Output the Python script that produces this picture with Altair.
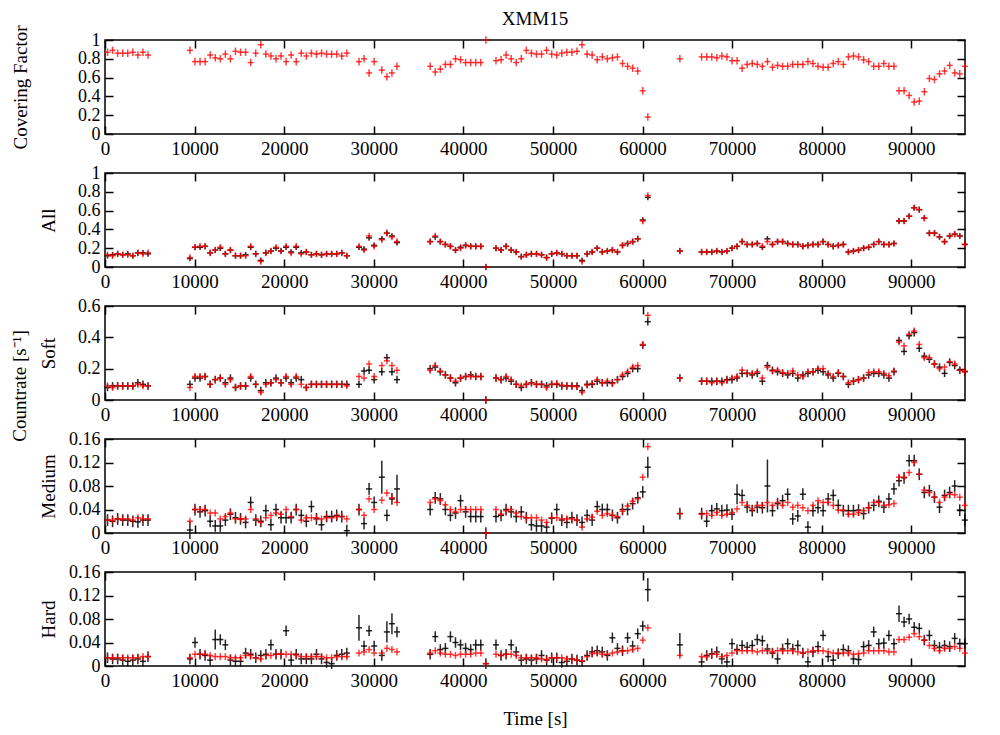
import altair as alt
import pandas as pd

FONT = "Liberation Serif"
FS = 19
FS_Y = 18
BIN = 565  # s, width of one time bin

# time bins: segment start times and number of bins in each segment
SEG_START = [280, 9480, 28350, 30900, 36300, 64170, 66600]
SEG_COUNT = [9, 32, 4, 4, 44, 1, 53]
TIMES = []
for s, n in zip(SEG_START, SEG_COUNT):
    TIMES.extend(s + i * BIN for i in range(n))

XTICKS = [0, 10000, 20000, 30000, 40000, 50000, 60000, 70000, 80000, 90000]

# ---------------- Covering factor (red only) ----------------
cf_red = [
    0.87, 0.89, 0.86, 0.86, 0.86, 0.87, 0.84, 0.87, 0.84,
    0.89, 0.77, 0.77, 0.77, 0.84, 0.81, 0.80, 0.85, 0.80, 0.88, 0.87, 0.87, 0.76, 0.86, 0.95, 0.85,
    0.83, 0.80, 0.83, 0.77, 0.84, 0.77, 0.86, 0.83, 0.86, 0.85, 0.86, 0.85, 0.85, 0.85, 0.83, 0.86,
    0.77, 0.80, 0.65, 0.77, 0.68, 0.61, 0.65, 0.72,
    0.72, 0.66, 0.69, 0.74, 0.74, 0.80, 0.79, 0.76, 0.76, 0.76, 0.76, 1.00, None, 0.78, 0.79, 0.84,
    0.80, 0.76, 0.80, 0.89, 0.86, 0.85,
    0.85, 0.89, 0.85, 0.84, 0.86, 0.87, 0.87, 0.88, 0.95, 0.85, 0.84, 0.79, 0.82, 0.80, 0.81, 0.82,
    0.75, 0.72, 0.70, 0.67, 0.46, 0.18,
    0.80,
    0.82, 0.82, 0.82, 0.81, 0.83, 0.82, 0.78, 0.78, 0.70, 0.74, 0.75, 0.74, 0.72, 0.77, 0.71, 0.73,
    0.72, 0.72, 0.74, 0.74, 0.74, 0.77, 0.75, 0.72, 0.71, 0.71, 0.75, 0.77, 0.74, 0.82, 0.83, 0.82,
    0.79, 0.77, 0.72, 0.72, 0.75, 0.72, 0.72, 0.46, 0.46, 0.41, 0.34, 0.35, 0.45, 0.59, 0.58, 0.64,
    0.67, 0.73, 0.65, 0.64, 0.72,
]

# ---------------- All ----------------
all_red = [
    0.13, 0.12, 0.14, 0.13, 0.13, 0.12, 0.15, 0.14, 0.15,
    0.10, 0.21, 0.22, 0.22, 0.15, 0.18, 0.21, 0.14, 0.18, 0.12, 0.12, 0.12, 0.22, 0.14, 0.06, 0.15,
    0.17, 0.21, 0.17, 0.22, 0.15, 0.22, 0.14, 0.16, 0.13, 0.14, 0.13, 0.14, 0.14, 0.14, 0.15, 0.12,
    0.22, 0.18, 0.33, 0.22, 0.29, 0.36, 0.32, 0.27,
    0.27, 0.33, 0.27, 0.24, 0.22, 0.18, 0.20, 0.23, 0.22, 0.22, 0.22, 0.00, None, 0.20, 0.18, 0.22,
    0.18, 0.16, 0.11, 0.13, 0.14, 0.14,
    0.13, 0.10, 0.14, 0.15, 0.14, 0.12, 0.12, 0.12, 0.06, 0.14, 0.16, 0.20, 0.16, 0.17, 0.18, 0.16,
    0.23, 0.25, 0.27, 0.30, 0.49, 0.76,
    0.17,
    0.16, 0.16, 0.16, 0.17, 0.16, 0.17, 0.20, 0.22, 0.27, 0.24, 0.24, 0.25, 0.22, 0.27, 0.24, 0.27,
    0.27, 0.25, 0.24, 0.24, 0.22, 0.23, 0.24, 0.24, 0.27, 0.24, 0.22, 0.23, 0.24, 0.16, 0.17, 0.18,
    0.20, 0.21, 0.24, 0.27, 0.24, 0.24, 0.25, 0.49, 0.49, 0.54, 0.63, 0.61, 0.52, 0.36, 0.36, 0.32,
    0.27, 0.33, 0.35, 0.33, 0.24,
]
all_black = [
    0.12, 0.13, 0.14, 0.13, 0.14, 0.12, 0.15, 0.15, 0.14,
    0.09, 0.21, 0.21, 0.22, 0.15, 0.18, 0.20, 0.14, 0.18, 0.12, 0.12, 0.13, 0.21, 0.14, 0.07, 0.15,
    0.17, 0.20, 0.17, 0.21, 0.16, 0.21, 0.15, 0.16, 0.13, 0.14, 0.13, 0.14, 0.14, 0.14, 0.15, 0.12,
    0.21, 0.19, 0.31, 0.23, 0.30, 0.36, 0.33, 0.26,
    0.27, 0.32, 0.27, 0.24, 0.22, 0.18, 0.21, 0.23, 0.22, 0.22, 0.22, 0.00, None, 0.20, 0.18, 0.22,
    0.18, 0.16, 0.11, 0.13, 0.14, 0.14,
    0.13, 0.10, 0.14, 0.15, 0.14, 0.12, 0.12, 0.12, 0.07, 0.14, 0.16, 0.20, 0.16, 0.17, 0.18, 0.16,
    0.23, 0.25, 0.27, 0.30, 0.50, 0.74,
    0.17,
    0.16, 0.16, 0.16, 0.17, 0.16, 0.17, 0.20, 0.22, 0.27, 0.24, 0.24, 0.25, 0.21, 0.30, 0.24, 0.27,
    0.27, 0.25, 0.24, 0.24, 0.22, 0.23, 0.24, 0.24, 0.27, 0.24, 0.22, 0.23, 0.24, 0.16, 0.17, 0.18,
    0.20, 0.21, 0.24, 0.27, 0.24, 0.24, 0.25, 0.49, 0.49, 0.54, 0.63, 0.61, 0.52, 0.36, 0.36, 0.32,
    0.27, 0.33, 0.35, 0.33, 0.24,
]

# ---------------- Soft ----------------
soft_red = [
    0.09, 0.08, 0.09, 0.09, 0.09, 0.09, 0.10, 0.09, 0.09,
    0.08, 0.15, 0.15, 0.15, 0.10, 0.13, 0.14, 0.10, 0.13, 0.08, 0.09, 0.09, 0.15, 0.10, 0.05, 0.10,
    0.11, 0.13, 0.11, 0.15, 0.10, 0.15, 0.10, 0.08, 0.10, 0.10, 0.10, 0.10, 0.10, 0.10, 0.10, 0.09,
    0.15, 0.14, 0.23, 0.15, 0.22, 0.25, 0.22, 0.19,
    0.19, 0.22, 0.185, 0.16, 0.14, 0.12, 0.14, 0.15, 0.15, 0.15, 0.15, 0.00, None, 0.14, 0.13, 0.15,
    0.13, 0.10, 0.09, 0.10, 0.11, 0.10,
    0.10, 0.08, 0.10, 0.105, 0.095, 0.09, 0.09, 0.085, 0.05, 0.095, 0.105, 0.13, 0.11, 0.12, 0.105,
    0.13, 0.16, 0.18, 0.21, 0.22, 0.355, 0.54,
    0.14,
    0.12, 0.12, 0.11, 0.12, 0.11, 0.125, 0.14, 0.15, 0.19, 0.17, 0.17, 0.18, 0.14, 0.21, 0.185, 0.19,
    0.175, 0.17, 0.185, 0.16, 0.15, 0.18, 0.18, 0.20, 0.20, 0.17, 0.15, 0.175, 0.15, 0.11, 0.12, 0.13,
    0.14, 0.175, 0.18, 0.18, 0.17, 0.155, 0.185, 0.37, 0.345, 0.42, 0.44, 0.355, 0.27, 0.27, 0.23,
    0.20, 0.21, 0.245, 0.23, 0.19, 0.185,
]
soft_black = [
    0.08, 0.09, 0.09, 0.09, 0.09, 0.09, 0.11, 0.10, 0.09,
    0.10, 0.14, 0.14, 0.15, 0.10, 0.13, 0.14, 0.11, 0.14, 0.08, 0.09, 0.09, 0.14, 0.10, 0.06, 0.11,
    0.11, 0.14, 0.11, 0.14, 0.11, 0.14, 0.13, 0.08, 0.10, 0.10, 0.10, 0.10, 0.10, 0.10, 0.10, 0.10,
    0.10, 0.185, 0.19, 0.13, 0.18, 0.27, 0.18, 0.13,
    0.20, 0.21, 0.18, 0.16, 0.14, 0.11, 0.14, 0.15, 0.16, 0.15, 0.15, 0.00, None, 0.14, 0.13, 0.14,
    0.12, 0.10, 0.08, 0.10, 0.11, 0.10,
    0.10, 0.09, 0.10, 0.10, 0.09, 0.09, 0.09, 0.09, 0.06, 0.10, 0.10, 0.12, 0.11, 0.11, 0.11, 0.13,
    0.15, 0.17, 0.20, 0.20, 0.35, 0.50,
    0.14,
    0.12, 0.12, 0.12, 0.12, 0.12, 0.13, 0.13, 0.14, 0.17, 0.17, 0.16, 0.17, 0.12, 0.22, 0.19, 0.18,
    0.17, 0.16, 0.17, 0.14, 0.16, 0.17, 0.18, 0.19, 0.18, 0.16, 0.14, 0.17, 0.15, 0.10, 0.12, 0.13,
    0.14, 0.16, 0.17, 0.17, 0.16, 0.14, 0.18, 0.38, 0.31, 0.41, 0.43, 0.33, 0.28, 0.26, 0.23, 0.21,
    0.17, 0.24, 0.22, 0.19, 0.18,
]

# ---------------- Medium ----------------
med_red = [
    0.022, 0.022, 0.024, 0.024, 0.024, 0.022, 0.026, 0.024, 0.024,
    0.020, 0.040, 0.040, 0.040, 0.034, 0.034, 0.024, 0.028, 0.034, 0.024, 0.024, 0.024, 0.040, 0.024,
    0.018, 0.026, 0.030, 0.034, 0.032, 0.040, 0.028, 0.040, 0.022, 0.026, 0.026, 0.026, 0.024, 0.026,
    0.026, 0.028, 0.028, 0.024,
    0.040, 0.030, 0.058, 0.040, 0.056, 0.068, 0.060, 0.052,
    0.052, 0.058, 0.055, 0.048, 0.040, 0.036, 0.040, 0.040, 0.040, 0.040, 0.040, 0.000, None, 0.040,
    0.032, 0.038, 0.040, 0.034, 0.028, 0.026, 0.026, 0.026,
    0.022, 0.018, 0.026, 0.026, 0.024, 0.024, 0.024, 0.022, 0.010, 0.024, 0.027, 0.037, 0.030, 0.033,
    0.030, 0.028, 0.037, 0.046, 0.054, 0.058, 0.095, 0.147,
    0.033,
    0.032, 0.033, 0.030, 0.035, 0.030, 0.032, 0.035, 0.041, 0.052, 0.047, 0.041, 0.047, 0.047, 0.052,
    0.047, 0.052, 0.047, 0.052, 0.044, 0.047, 0.043, 0.038, 0.047, 0.055, 0.052, 0.052, 0.047, 0.039,
    0.039, 0.032, 0.032, 0.035, 0.038, 0.043, 0.052, 0.052, 0.047, 0.048, 0.050, 0.095, 0.095, 0.103,
    0.120, 0.100, 0.073, 0.069, 0.061, 0.052, 0.061, 0.066, 0.065, 0.061, 0.047,
]
med_black = [
    0.022, 0.020, 0.024, 0.022, 0.022, 0.020, 0.019, 0.022, 0.022,
    0.005, 0.040, 0.036, 0.038, 0.020, 0.012, 0.012, 0.022, 0.032, 0.026, 0.024, 0.018, 0.052, 0.022,
    0.020, 0.038, 0.014, 0.040, 0.026, 0.026, 0.026, 0.040, 0.030, 0.020, 0.045, 0.024, 0.014, 0.028,
    0.028, 0.030, 0.028, 0.004,
    0.040, 0.016, 0.075, 0.052, 0.095, 0.030, 0.058, 0.075,
    0.040, 0.060, 0.058, 0.040, 0.030, 0.034, 0.055, 0.036, 0.028, 0.028, 0.028, 0.000, None, 0.028,
    0.030, 0.040, 0.036, 0.028, 0.036, 0.026, 0.014, 0.012,
    0.012, 0.010, 0.025, 0.040, 0.022, 0.018, 0.026, 0.022, 0.018, 0.030, 0.022, 0.045, 0.040, 0.040,
    0.030, 0.026, 0.040, 0.040, 0.050, 0.060, 0.070, 0.112,
    0.033,
    0.033, 0.020, 0.038, 0.041, 0.038, 0.039, 0.032, 0.066, 0.064, 0.044, 0.038, 0.044, 0.043, 0.080,
    0.038, 0.050, 0.055, 0.066, 0.024, 0.029, 0.066, 0.010, 0.038, 0.043, 0.038, 0.058, 0.064, 0.047,
    0.038, 0.038, 0.038, 0.039, 0.033, 0.043, 0.047, 0.054, 0.044, 0.058, 0.075, 0.089, 0.094, 0.123,
    0.123, 0.100, 0.069, 0.072, 0.061, 0.044, 0.064, 0.069, 0.080, 0.039, 0.022,
]

# ---------------- Hard ----------------
hard_red = [
    0.014, 0.014, 0.014, 0.014, 0.014, 0.014, 0.014, 0.016, 0.016,
    0.014, 0.020, 0.020, 0.020, 0.018, 0.016, 0.016, 0.016, 0.014, 0.014, 0.014, 0.018, 0.018, 0.014,
    0.012, 0.018, 0.018, 0.020, 0.020, 0.020, 0.020, 0.018, 0.016, 0.016, 0.016, 0.016, 0.016, 0.014,
    0.014, 0.016, 0.016, 0.016,
    0.022, 0.024, 0.028, 0.022, 0.022, 0.030, 0.028, 0.024,
    0.022, 0.026, 0.022, 0.020, 0.020, 0.018, 0.020, 0.020, 0.020, 0.022, 0.022, 0.004, None, 0.020,
    0.018, 0.020, 0.020, 0.018, 0.014, 0.014, 0.014, 0.014,
    0.012, 0.011, 0.014, 0.014, 0.014, 0.012, 0.012, 0.010, 0.009, 0.016, 0.021, 0.022, 0.020, 0.020,
    0.022, 0.024, 0.026, 0.026, 0.028, 0.030, 0.044, 0.065,
    0.018,
    0.016, 0.016, 0.020, 0.020, 0.016, 0.018, 0.022, 0.026, 0.026, 0.026, 0.026, 0.024, 0.026, 0.026,
    0.024, 0.026, 0.026, 0.026, 0.026, 0.024, 0.022, 0.024, 0.026, 0.026, 0.026, 0.024, 0.022, 0.022,
    0.022, 0.022, 0.020, 0.021, 0.022, 0.026, 0.026, 0.026, 0.026, 0.024, 0.024, 0.045, 0.045, 0.049,
    0.055, 0.050, 0.044, 0.035, 0.030, 0.026, 0.030, 0.030, 0.033, 0.030, 0.022,
]
hard_black = [
    0.014, 0.012, 0.012, 0.010, 0.008, 0.010, 0.012, 0.008, 0.016,
    0.012, 0.040, 0.020, 0.018, 0.010, 0.045, 0.045, 0.036, 0.010, 0.008, 0.008, 0.022, 0.020, 0.014,
    0.018, 0.020, 0.036, 0.020, 0.020, 0.060, 0.010, 0.020, 0.012, 0.012, 0.012, 0.020, 0.012, 0.006,
    0.004, 0.018, 0.020, 0.022,
    0.065, 0.034, 0.060, 0.034, 0.018, 0.058, 0.072, 0.058,
    0.020, 0.050, 0.028, 0.030, 0.050, 0.040, 0.036, 0.030, 0.028, 0.036, 0.036, 0.004, None, 0.036,
    0.018, 0.020, 0.036, 0.024, 0.010, 0.012, 0.010, 0.012,
    0.018, 0.010, 0.014, 0.014, 0.006, 0.008, 0.012, 0.010, 0.008, 0.018, 0.024, 0.026, 0.024, 0.018,
    0.048, 0.030, 0.026, 0.048, 0.034, 0.055, 0.068, 0.130,
    0.036,
    0.007, 0.018, 0.021, 0.024, 0.012, 0.007, 0.038, 0.028, 0.035, 0.032, 0.035, 0.045, 0.043, 0.029,
    0.022, 0.012, 0.029, 0.038, 0.029, 0.035, 0.022, 0.007, 0.024, 0.033, 0.052, 0.016, 0.010, 0.021,
    0.028, 0.026, 0.012, 0.011, 0.033, 0.035, 0.058, 0.038, 0.039, 0.052, 0.038, 0.089, 0.075, 0.080,
    0.066, 0.064, 0.044, 0.052, 0.035, 0.032, 0.035, 0.033, 0.047, 0.038, 0.038,
]

# error half-sizes (typical per panel) and the larger individual ones (bin index -> error)
ERR_RED = {"cf": 0.04, "all": 0.035, "soft": 0.022, "med": 0.006, "hard": 0.006}
ERR_BLACK = {"all": 0.03, "soft": 0.024, "med": 0.010, "hard": 0.009}
BIG_MED = {9: 0.015, 45: 0.028, 48: 0.024, 92: 0.018, 101: 0.017, 107: 0.045}
BIG_HARD = {14: 0.017, 41: 0.022, 46: 0.018, 47: 0.018, 92: 0.02, 93: 0.02, 133: 0.014}

SW = 1.5


def build(vals, err, big=None):
    rows = []
    for i, (t, v) in enumerate(zip(TIMES, vals)):
        if v is None:
            continue
        e = (big or {}).get(i, err)
        rows.append(dict(t=t, tlo=t - BIN * 0.6, thi=t + BIN * 0.6, v=v, lo=v - e, hi=v + e))
    return pd.DataFrame(rows)


def axis(**kw):
    base = dict(offset=-8, tickSize=8, tickWidth=1.5, tickColor="black", domain=False, grid=False,
                labelFont=FONT, labelFontSize=FS, labelColor="black", titleFont=FONT,
                titleFontSize=FS, titleColor="black", titleFontWeight="normal", minExtent=0,
                labelOverlap=False)
    base.update(kw)
    return alt.Axis(**base)


def panel(series, ydom, yticks, ytitle, title_x, xtitle=None, extra=None):
    xs = alt.Scale(domain=[0, 96000], nice=False, zero=False)
    ys = alt.Scale(domain=ydom, nice=False, zero=False)
    ax_b = axis(orient="bottom", values=XTICKS, format="d", labelPadding=5, labelFlush=False,
                title=xtitle, titlePadding=19)
    ax_t = axis(orient="top", values=XTICKS, labels=False, title=None)
    ax_l = axis(orient="left", values=yticks, format="~g", labelPadding=5, labelFlush=False,
                labelFontSize=FS_Y, title=ytitle, titleX=title_x, titleBaseline="middle")
    ax_r = axis(orient="right", values=yticks, labels=False, title=None)
    layers = []
    first = True
    for df, col, op in series:
        base = alt.Chart(df)
        vr = base.mark_rule(color=col, opacity=op, strokeWidth=SW).encode(
            x=alt.X("t:Q", scale=xs, axis=ax_b if first else None),
            y=alt.Y("lo:Q", scale=ys, axis=ax_l if first else None),
            y2="hi:Q",
        )
        hr = base.mark_rule(color=col, opacity=op, strokeWidth=SW).encode(
            x=alt.X("tlo:Q", scale=xs, axis=ax_t if first else None),
            x2="thi:Q",
            y=alt.Y("v:Q", scale=ys, axis=ax_r if first else None),
        )
        layers += [vr, hr]
        first = False
    if extra is not None:
        layers.append(extra)
    return alt.layer(*layers).resolve_axis(x="independent", y="independent").properties(
        width=860, height=94)


RED = "#ff0000"
BLK = "#000000"

p1 = panel([(build(cf_red, ERR_RED["cf"]), RED, 0.75)], [0, 1], [0, 0.2, 0.4, 0.6, 0.8, 1],
           "Covering Factor", -93).properties(
    title=alt.TitleParams("XMM15", font=FONT, fontSize=FS, fontWeight="normal", anchor="middle",
                          frame="group", offset=-4, color="black"))
p2 = panel([(build(all_black, ERR_BLACK["all"]), BLK, 0.85), (build(all_red, ERR_RED["all"]), RED, 0.75)],
           [0, 1], [0, 0.2, 0.4, 0.6, 0.8, 1], "All", -64.5)
countrate = alt.Chart(alt.Data(values=[{"a": 1}])).mark_text(
    text="Countrate [s⁻¹]", angle=270, font=FONT, fontSize=FS, align="center", baseline="middle",
    color="black").encode(x=alt.value(-85), y=alt.value(80))
p3 = panel([(build(soft_black, ERR_BLACK["soft"]), BLK, 0.85), (build(soft_red, ERR_RED["soft"]), RED, 0.75)],
           [0, 0.6], [0, 0.2, 0.4, 0.6], "Soft", -64.5, extra=countrate)
p4 = panel([(build(med_black, ERR_BLACK["med"], BIG_MED), BLK, 0.85),
            (build(med_red, ERR_RED["med"]), RED, 0.75)],
           [0, 0.16], [0, 0.04, 0.08, 0.12, 0.16], "Medium", -64.5)
p5 = panel([(build(hard_black, ERR_BLACK["hard"], BIG_HARD), BLK, 0.85),
            (build(hard_red, ERR_RED["hard"]), RED, 0.75)],
           [0, 0.16], [0, 0.04, 0.08, 0.12, 0.16], "Hard", -64.5, xtitle="Time [s]")

chart = alt.vconcat(p1, p2, p3, p4, p5, spacing=39, bounds="flush").configure_view(
    stroke="black", strokeWidth=1.5
).properties(background="white", padding={"left": 2, "top": 1, "right": 5, "bottom": 5})

chart.save("out.html", embed_options={"renderer": "svg", "actions": False})
